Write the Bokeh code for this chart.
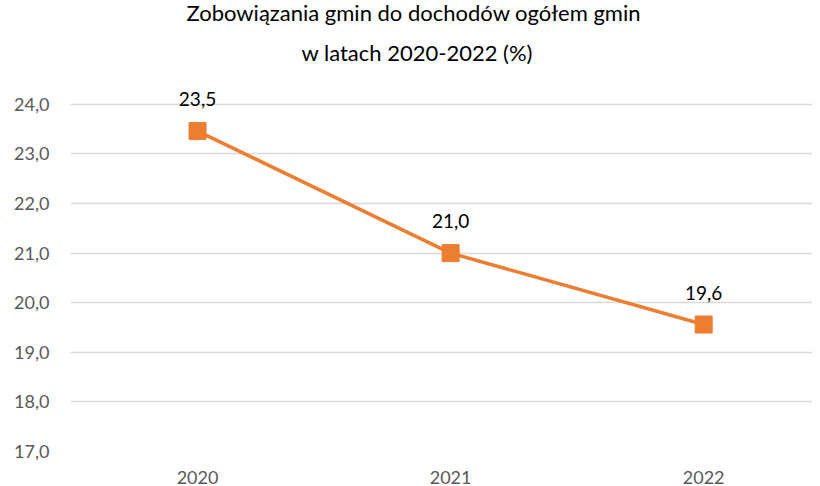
from bokeh.plotting import figure
from bokeh.models import ColumnDataSource, FixedTicker, Range1d, Title
from bokeh.core.properties import value
from bokeh.embed import file_html
from bokeh.resources import INLINE

years = ["2020", "2021", "2022"]
values = [23.46, 21.0, 19.56]
y_ticks = [17, 18, 19, 20, 21, 22, 23, 24]
title_lines = ["Zobowiązania gmin do dochodów ogółem gmin", "w latach 2020-2022 (%)"]

ORANGE = "#ED7D31"
FONT = "Lato"

xs = list(range(len(years)))
labels = [f"{v:.1f}".replace(".", ",") for v in values]
src = ColumnDataSource(dict(x=xs, y=values, lab=labels))

p = figure(width=812, height=486, output_backend="svg", toolbar_location=None,
           x_range=Range1d(-0.502, 2.43), y_range=Range1d(17, 24.48),
           min_border_left=70, min_border_right=0, min_border_top=80, min_border_bottom=35)
p.outline_line_color = None
p.background_fill_color = "white"

p.line("x", "y", source=src, line_color=ORANGE, line_width=3.5)
p.scatter("x", "y", source=src, marker="square", size=17, fill_color=ORANGE, line_color=ORANGE)
p.text("x", "y", text="lab", source=src, text_align="center", text_baseline="bottom",
       y_offset=-25, text_font=value(FONT), text_font_size="19px", text_color="#000000")

p.xaxis.ticker = FixedTicker(ticks=xs)
p.xaxis.major_label_overrides = {i: y for i, y in enumerate(years)}
p.yaxis.ticker = FixedTicker(ticks=y_ticks)
p.yaxis.major_label_overrides = {t: f"{t:.1f}".replace(".", ",") for t in y_ticks}
for ax in (p.xaxis, p.yaxis):
    ax.axis_line_color = None
    ax.major_tick_line_color = None
    ax.minor_tick_line_color = None
    ax.major_label_text_font = FONT
    ax.major_label_text_font_size = "18px"
    ax.major_label_text_color = "#595959"
p.yaxis.major_label_standoff = 15
p.xaxis.major_label_standoff = 13
p.xgrid.grid_line_color = None
p.ygrid.grid_line_color = "#D9D9D9"
p.ygrid.grid_line_width = 1.5

# p.title is the outer (upper) line, the added Title sits nearer the plot
p.title.text = title_lines[0]
p.title.align = "left"
p.title.offset = 116
p.title.text_font = FONT
p.title.text_font_size = "22px"
p.title.text_font_style = "normal"
p.title.text_color = "#000000"
s2 = 22
try:
    p.title.standoff = -8
    s2 = 30
except Exception:
    p.title.standoff = 0
t2 = Title(text=title_lines[1], align="left", offset=231, text_font=FONT,
           text_font_size="22px", text_font_style="normal", text_color="#000000", standoff=s2)
p.add_layout(t2, "above")

open("out.html", "w").write(file_html(p, INLINE))
